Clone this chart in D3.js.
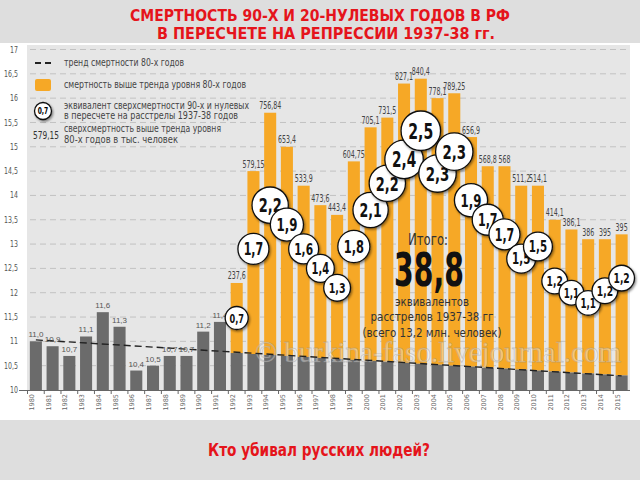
<!DOCTYPE html>
<html><head><meta charset="utf-8">
<script src="https://cdn.jsdelivr.net/npm/d3@7/dist/d3.min.js"></script>
<style>
html,body{margin:0;padding:0;background:#dedede;}
svg{display:block;}
.nar{font-family:"DejaVu Sans","Liberation Sans",sans-serif;}
</style></head>
<body>
<svg id="c" width="640" height="480"></svg>
<script>
const years = ["1980","1981","1982","1983","1984","1985","1986","1987","1988","1989","1990","1991",
  "1992","1993","1994","1995","1996","1997","1998","1999","2000","2001","2002","2003",
  "2004","2005","2006","2007","2008","2009","2010","2011","2012","2013","2014","2015"];
// grey bars: mortality 1980-1991, then the 80s trend level 1992-2015
const baseMortality = [11.0,10.9,10.7,11.1,11.6,11.3,10.4,10.5,10.7,10.7,11.2,11.4,
  10.76,10.74,10.72,10.70,10.68,10.66,10.64,10.62,10.60,10.58,10.56,10.54,
  10.52,10.50,10.48,10.46,10.44,10.42,10.40,10.38,10.36,10.34,10.32,10.30];
const baseLabels = ["11,0","10,9","10,7","11,1","11,6","11,3","10,4","10,5","10,7","10,7","11,2","11,4"];
// orange bars: total mortality 1992-2015
const excessYears = years.slice(12);
const totalMortality = [12.2,14.5,15.7,15.0,14.2,13.8,13.6,14.7,15.4,15.6,16.3,16.4,
  16.0,16.1,15.2,14.6,14.6,14.2,14.2,13.5,13.3,13.1,13.1,13.2];
const excessLabels = ["237,6","579,15","756,84","653,4","533,9","473,6","443,4","604,75","705,1","731,5","827,1","840,4",
  "778,1","789,25","656,9","568,8","568","511,2","514,1","414,1","386,1","386","395","395"];
const equivalents = [0.7,1.7,2.2,1.9,1.6,1.4,1.3,1.8,2.1,2.2,2.4,2.5,
  2.3,2.3,1.9,1.7,1.7,1.5,1.5,1.2,1.1,1.1,1.2,1.2];
// vertical placement of the badges, in axis units
const badgeLevel = [11.48,12.9,13.8,13.4,12.9,12.5,12.1,12.95,13.7,14.25,14.74,15.33,
  14.45,14.9,13.9,13.5,13.2,12.7,12.95,12.24,12.0,11.79,12.04,12.3];
const trendLine = [{year:"1980", v:11.03},{year:"2015", v:10.29}];
const yTicks = [10,10.5,11,11.5,12,12.5,13,13.5,14,14.5,15,15.5,16,16.5,17];

const svg = d3.select("#c");
const fmt = v => String(v).replace(".", ",");
const ORANGE = "#f6a826", GREY = "#6b6b6b";

function squeeze(sel, k){ sel.each(function(){ const w=this.getComputedTextLength(); this.setAttribute("textLength", (w*k).toFixed(2)); this.setAttribute("lengthAdjust","spacingAndGlyphs"); }); return sel; }
function fitW(sel, w){ sel.attr("textLength", w).attr("lengthAdjust","spacingAndGlyphs"); return sel; }

// panels
svg.append("rect").attr("width",640).attr("height",480).attr("fill","#dedede");
svg.append("rect").attr("x",0).attr("y",43).attr("width",640).attr("height",377).attr("fill","#ffffff");

const x = d3.scaleBand().domain(years).range([27.5,630]).paddingInner(0.28).paddingOuter(0.14);
const y = d3.scaleLinear().domain([10,17]).range([390,49.5]);

svg.append("rect").attr("x",27).attr("y",45).attr("width",603).attr("height",345).attr("fill","#e6e6e6");

// grid
svg.append("g").selectAll("line").data(yTicks.slice(1)).join("line")
  .attr("x1",30).attr("x2",628).attr("y1",d=>y(d)).attr("y2",d=>y(d))
  .attr("stroke","#c2c2c2").attr("stroke-width",1).attr("stroke-dasharray","6,4");

// title
const t1 = svg.append("text").attr("class","nar").attr("text-anchor","middle").attr("x",320).attr("y",21)
  .attr("fill","#e5141b").attr("font-weight","bold").attr("font-size",16).text("СМЕРТНОСТЬ 90-Х И 20-НУЛЕВЫХ ГОДОВ В РФ");
fitW(t1,380);
const t2 = svg.append("text").attr("class","nar").attr("text-anchor","middle").attr("x",326).attr("y",39)
  .attr("fill","#e5141b").attr("font-weight","bold").attr("font-size",16).text("В ПЕРЕСЧЕТЕ НА РЕПРЕССИИ 1937-38 гг.");
fitW(t2,338);

// orange bars
svg.append("g").selectAll("rect").data(excessYears).join("rect")
  .attr("x",d=>x(d)).attr("width",x.bandwidth())
  .attr("y",(d,i)=>y(totalMortality[i]))
  .attr("height",(d,i)=>y(baseMortality[i+12]) - y(totalMortality[i]))
  .attr("fill",ORANGE);
// grey bars
svg.append("g").selectAll("rect").data(years).join("rect")
  .attr("x",d=>x(d)).attr("width",x.bandwidth())
  .attr("y",(d,i)=>y(baseMortality[i]))
  .attr("height",(d,i)=>y(10)-y(baseMortality[i]))
  .attr("fill",GREY);

// watermark
svg.append("text").attr("x",438).attr("y",362).attr("text-anchor","middle")
  .attr("font-family","Liberation Serif, DejaVu Serif, serif").attr("font-size",29)
  .attr("fill","#ffffff").attr("fill-opacity",0.4).attr("stroke","#8a8a8a").attr("stroke-opacity",0.4).attr("stroke-width",0.8)
  .text("© burkina-faso.livejournal.com");

// trend line
svg.append("path").datum(trendLine)
  .attr("d", d3.line().x(d=>x(d.year)+x.bandwidth()/2).y(d=>y(d.v)))
  .attr("fill","none").attr("stroke","#222").attr("stroke-width",1.4).attr("stroke-dasharray","7,4");

// grey labels
svg.append("g").selectAll("text").data(baseLabels).join("text")
  .attr("font-family","Liberation Sans, Arial, sans-serif").attr("font-size",8).attr("fill","#555").attr("text-anchor","middle")
  .attr("x",(d,i)=>x(years[i])+x.bandwidth()/2).attr("y",(d,i)=>y(baseMortality[i])-4)
  .text(d=>d);

// orange labels
const ol = svg.append("g").selectAll("text").data(excessLabels).join("text")
  .attr("class","nar").attr("font-size",10.5).attr("fill","#444").attr("text-anchor","middle")
  .attr("x",(d,i)=>x(excessYears[i])+x.bandwidth()/2).attr("y",(d,i)=>y(totalMortality[i])-3.5)
  .text(d=>d);
squeeze(ol,0.6);

// axes
const yAxis = svg.append("g").attr("transform","translate(19,0)")
  .call(d3.axisLeft(y).tickValues(yTicks).tickSize(0).tickPadding(1).tickFormat(fmt));
yAxis.select(".domain").remove();
yAxis.selectAll("text").attr("class","nar").attr("font-size",8).attr("fill","#555");
squeeze(yAxis.selectAll("text"),0.78);

const xAxis = svg.append("g").attr("transform","translate(0,390)")
  .call(d3.axisBottom(x).tickSize(0).tickPadding(3));
xAxis.select(".domain").attr("stroke","#666").attr("d","M19,0.5H630");
xAxis.selectAll("text").attr("font-family","DejaVu Sans, sans-serif").attr("font-size",6.5).attr("fill","#666")
  .attr("text-anchor","end").attr("transform","rotate(-90)").attr("dx","-4").attr("dy","-0.3em")
  .attr("x",0).attr("y",0);
svg.append("g").selectAll("line").data(years).join("line")
  .attr("x1",d=>x(d)-x.step()*0.14).attr("x2",d=>x(d)-x.step()*0.14)
  .attr("y1",390).attr("y2",394).attr("stroke","#666");

// shadow filter
const defs = svg.append("defs");
const f = defs.append("filter").attr("id","sh").attr("x","-40%").attr("y","-40%").attr("width","180%").attr("height","180%");
f.append("feDropShadow").attr("dx",1.2).attr("dy",1.5).attr("stdDeviation",1.2).attr("flood-color","#000").attr("flood-opacity",0.45);

// badges
const rad = v => Math.max(11.5, 6.5 + 5.3*v);
const badges = svg.append("g").selectAll("g").data(equivalents).join("g")
  .attr("transform",(d,i)=>`translate(${x(excessYears[i])+x.bandwidth()/2},${y(badgeLevel[i])})`);
badges.append("circle").attr("r",d=>rad(d)).attr("fill","#fff").attr("stroke","#111").attr("stroke-width",1.3).attr("filter","url(#sh)");
const bt = badges.append("text").attr("class","nar").attr("text-anchor","middle").attr("font-weight","bold")
  .attr("font-size",d=>rad(d)*1.08).attr("dy","0.37em").attr("fill","#111").text(d=>fmt(d));
squeeze(bt,0.66);

// total block
const tb = svg.append("g").attr("class","nar").attr("text-anchor","middle").attr("fill","#333");
fitW(tb.append("text").attr("x",428).attr("y",245).attr("font-size",15).text("Итого:"),40);
fitW(tb.append("text").attr("x",429).attr("y",286).attr("font-size",46).attr("font-weight","bold").attr("fill","#111").text("38,8"),70);
fitW(tb.append("text").attr("x",432).attr("y",306).attr("font-size",13).text("эквивалентов"),74);
fitW(tb.append("text").attr("x",432).attr("y",321).attr("font-size",13).text("расстрелов 1937-38 гг"),123);
fitW(tb.append("text").attr("x",432).attr("y",337).attr("font-size",13).text("(всего 13,2 млн. человек)"),139);

// legend
const lg = svg.append("g").attr("class","nar");
lg.append("line").attr("x1",35).attr("x2",52).attr("y1",63).attr("y2",63).attr("stroke","#222").attr("stroke-width",2).attr("stroke-dasharray","6,4");
lg.append("rect").attr("x",35).attr("y",79).attr("width",16).attr("height",12).attr("rx",2).attr("fill",ORANGE);
lg.append("circle").attr("cx",43).attr("cy",111).attr("r",8.5).attr("fill","#fff").attr("stroke","#111").attr("stroke-width",1.3).attr("filter","url(#sh)");
squeeze(lg.append("text").attr("x",43).attr("y",111).attr("dy","0.36em").attr("text-anchor","middle").attr("font-size",8.5).attr("font-weight","bold").text("0,7"),0.7);
fitW(lg.append("text").attr("x",33).attr("y",139).attr("font-size",11).attr("fill","#333").text("579,15"),26);
const lt = [["тренд смертности 80-х годов",66,120],["смертность выше тренда уровня 80-х годов",88,182],
  ["эквивалент сверхсмертности 90-х и нулевых",109,185],["в пересчете на расстрелы 1937-38 годов",119,174],
  ["сверхсмертность выше тренда уровня",132,157],["80-х годов в тыс. человек",143,114]];
lg.selectAll("text.l").data(lt).join("text").attr("class","l nar").attr("x",64).attr("y",d=>d[1])
  .attr("font-size",10.5).attr("fill","#444").text(d=>d[0])
  .attr("textLength",d=>d[2]).attr("lengthAdjust","spacingAndGlyphs");

// bottom text
fitW(svg.append("text").attr("class","nar").attr("x",319).attr("y",456).attr("text-anchor","middle")
  .attr("font-size",17).attr("font-weight","bold").attr("fill","#e5141b").text("Кто убивал русских людей?"),222);
</script>
</body></html>
